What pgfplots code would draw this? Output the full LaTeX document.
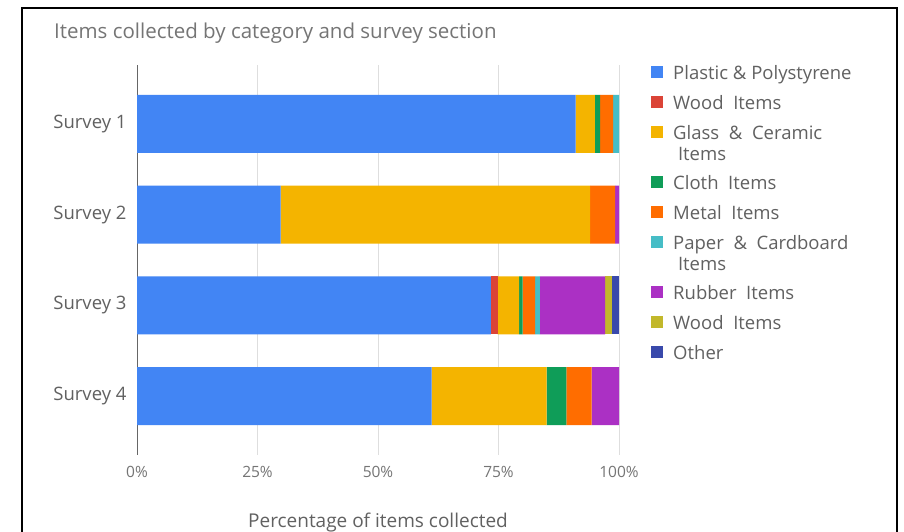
\documentclass[border=0pt]{standalone}
\usepackage{pgfplots}
\usepackage{pgfplotstable}
\pgfplotsset{compat=1.18}
\usepackage{fontspec}
\setmainfont{Open Sans}
\definecolor{cPlastic}{HTML}{4285F4}
\definecolor{cWood}{HTML}{DB4437}
\definecolor{cGlass}{HTML}{F4B400}
\definecolor{cCloth}{HTML}{0F9D58}
\definecolor{cMetal}{HTML}{FF6D00}
\definecolor{cPaper}{HTML}{46BDC6}
\definecolor{cRubber}{HTML}{AB30C4}
\definecolor{cWoodB}{HTML}{C2B82B}
\definecolor{cOther}{HTML}{3949AB}
\definecolor{txt}{HTML}{616161}
\definecolor{ttl}{HTML}{757575}
\newcommand\st{\rule[-5pt]{0pt}{19pt}}
\newcommand\stt{\rule[-5pt]{0pt}{39pt}}
\pgfplotstableread{
y plastic wood glass cloth metal paper rubber woodb other
1 91.0 0 4.0 1.1 2.7 1.2 0 0 0
2 29.8 0 64.2 0 5.2 0 0.8 0 0
3 73.4 1.4 4.5 0.7 2.6 1.0 13.5 1.4 1.5
4 61.1 0 23.9 4.1 5.2 0 5.7 0 0
}\data
\begin{document}
\begin{tikzpicture}[x=1pt,y=1pt]
\useasboundingbox (0,0) rectangle (904,-532);
\fill[white] (0,0) rectangle (904,-532);
\draw[black,line width=2pt] (22,-8) rectangle (897,-545);
\node[anchor=west,text=ttl,font=\fontsize{20.5}{24}\selectfont,inner sep=0pt] at (54,-33) {Items collected by category and survey section};
\begin{axis}[
  at={(137pt,-455pt)}, anchor=south west,
  scale only axis, width=482pt, height=390pt,
  xbar stacked, bar width=58pt,
  xmin=0, xmax=100, ymin=0.35, ymax=4.65,
  y dir=reverse,
  ytick={1,2,3,4},
  yticklabels={Survey 1,Survey 2,Survey 3,Survey 4},
  xtick={0,25,50,75,100},
  xticklabels={0\%,25\%,50\%,75\%,100\%},
  xmajorgrids, grid style={color=black!13, line width=0.8pt},
  major tick length=0pt,
  axis line style={draw=none},
  yticklabel style={text=txt, font=\fontsize{18.5}{22}\selectfont, xshift=-7pt},
  xticklabel style={text=ttl, font=\fontsize{15.5}{18}\selectfont, yshift=-8pt},
  xlabel={Percentage of items collected},
  xlabel style={text=txt, font=\fontsize{19}{22}\selectfont, yshift=-28pt},
  legend style={at={(1.0664,1.0)}, anchor=north west, draw=none, fill=none,
    font=\fontsize{18.5}{22}\selectfont, text=txt,
    row sep=11pt, column sep=10pt, cells={anchor=base west},
    nodes={inner sep=0pt, text depth=, text height=}, inner sep=0pt},
  legend image code/.code={\fill[#1,draw=none] (0pt,1pt) rectangle (12pt,13pt);},
  every axis plot/.append style={draw=none},
  clip=false,
]
\addplot[fill=cPlastic] table[x=plastic,y=y]{\data};
\addlegendentry{\st Plastic \& Polystyrene}
\addplot[fill=cWood] table[x=wood,y=y]{\data};
\addlegendentry{\st Wood\ \ Items}
\addplot[fill=cGlass] table[x=glass,y=y]{\data};
\addlegendentry{\st\smash{\begin{tabular}[t]{@{}l@{}}Glass \ \& \ Ceramic\\[-1pt]\ Items\end{tabular}}}
\addplot[fill=cCloth] table[x=cloth,y=y]{\data};
\addlegendentry{\stt Cloth\ \ Items}
\addplot[fill=cMetal] table[x=metal,y=y]{\data};
\addlegendentry{\st Metal\ \ Items}
\addplot[fill=cPaper] table[x=paper,y=y]{\data};
\addlegendentry{\st\smash{\begin{tabular}[t]{@{}l@{}}Paper \ \& \ Cardboard\\[-1pt]\ Items\end{tabular}}}
\addplot[fill=cRubber] table[x=rubber,y=y]{\data};
\addlegendentry{\stt Rubber\ \ Items}
\addplot[fill=cWoodB] table[x=woodb,y=y]{\data};
\addlegendentry{\st Wood\ \ Items}
\addplot[fill=cOther] table[x=other,y=y]{\data};
\addlegendentry{\st Other}
\draw[black!60, line width=1pt] (axis cs:0,0.35) -- (axis cs:0,4.65);
\end{axis}
\end{tikzpicture}
\end{document}
